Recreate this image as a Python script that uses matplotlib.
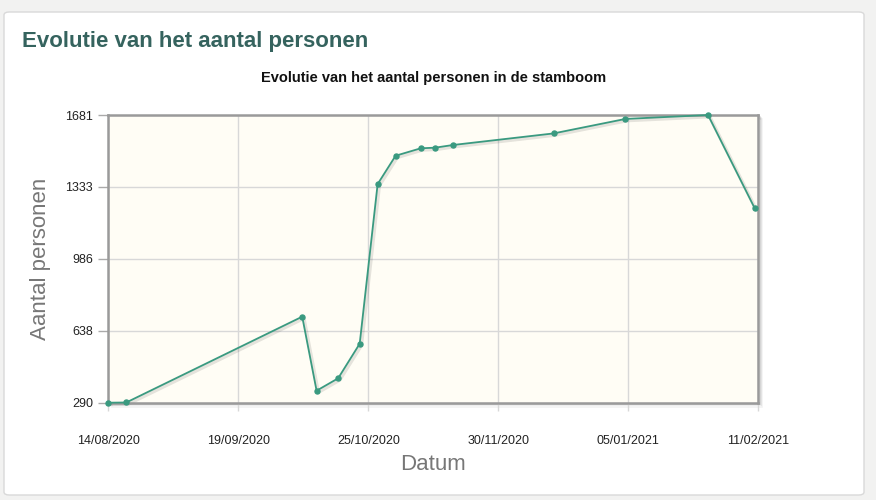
import matplotlib
matplotlib.use("Agg")
import matplotlib.pyplot as plt
import matplotlib.dates as mdates
import matplotlib.transforms as mtransforms
from matplotlib.patches import FancyBboxPatch, Rectangle
import numpy as np
import pandas as pd

plt.rcParams['font.family'] = ['Liberation Sans', 'DejaVu Sans']

# data
datums = ["14/08/2020", "19/08/2020", "07/10/2020", "11/10/2020", "17/10/2020",
          "23/10/2020", "28/10/2020", "02/11/2020", "09/11/2020", "13/11/2020",
          "18/11/2020", "16/12/2020", "05/01/2021", "28/01/2021", "10/02/2021"]
aantal = [290, 291, 706, 348, 408, 575, 1347, 1484, 1520, 1523, 1536, 1592,
          1662, 1681, 1230]
x_min, x_max = "14/08/2020", "11/02/2021"

dates = pd.to_datetime(datums, format="%d/%m/%Y")
xs = mdates.date2num(dates)
lo = mdates.date2num(pd.to_datetime(x_min, format="%d/%m/%Y"))
hi = mdates.date2num(pd.to_datetime(x_max, format="%d/%m/%Y"))
y_lo, y_hi = min(aantal), max(aantal)

W, H = 876, 500
fig = plt.figure(figsize=(W / 100, H / 100), dpi=100)
fig.patch.set_facecolor("#f2f2f1")

# witte kaart
card = FancyBboxPatch((4 / W, 5 / H), 860 / W, 483 / H,
                      boxstyle="round,pad=0,rounding_size=0.006",
                      transform=fig.transFigure, facecolor="white",
                      edgecolor="#d9d9d9", linewidth=1.0, zorder=-3)
fig.patches.append(card)

fig.text(22 / W, 1 - 41 / H, "Evolutie van het aantal personen",
         fontsize=16, fontweight="bold", color="#35635e", va="center", ha="left")

left, right, top, bottom = 108.3, 758.3, 115, 402.7
ax = fig.add_axes([left / W, 1 - bottom / H, (right - left) / W, (bottom - top) / H])

# schaduw van de plotrand
for i, a in enumerate([0.12, 0.08, 0.05]):
    d = 1.5 + i * 1.2
    fig.patches.append(Rectangle(((left + d) / W, 1 - (bottom + d) / H),
                                 (right - left) / W, (bottom - top) / H,
                                 transform=fig.transFigure, facecolor="none",
                                 edgecolor="black", alpha=a, linewidth=1.2, zorder=-2))

ax.set_facecolor("#fffdf5")
ax.set_xlim(lo, hi)
ax.set_ylim(y_lo, y_hi)

ax.set_xticks(np.linspace(lo, hi, 6))
ax.xaxis.set_major_formatter(mdates.DateFormatter("%d/%m/%Y"))
yt = np.linspace(y_lo, y_hi, 5)
ax.set_yticks(yt)
ax.set_yticklabels([str(int(round(v))) for v in yt])

ax.grid(True, color="#d8d8d8", linewidth=1.0)
ax.set_axisbelow(True)
for s in ax.spines.values():
    s.set_color("#9a9a9a")
    s.set_linewidth(1.8)

ax.tick_params(axis="y", length=7, width=1, color="#aaaaaa", pad=4,
               labelsize=9, labelcolor="#222222")
ax.tick_params(axis="x", length=6, width=1, color="#d8d8d8", pad=17,
               labelsize=9, labelcolor="#222222")

# schaduw van de lijn
shadow = mtransforms.offset_copy(ax.transData, fig=fig, x=1.2, y=-1.2, units="points")
ax.plot(xs, aantal, color="black", alpha=0.1, linewidth=2.5, transform=shadow,
        clip_on=False, zorder=2)
ax.plot(xs, aantal, color="#3a9a80", linewidth=1.3, marker="o", markersize=3.6,
        clip_on=False, zorder=3)

ax.set_title("Evolutie van het aantal personen in de stamboom", fontsize=10.5,
             fontweight="bold", color="#111111", pad=24)
ax.set_ylabel("Aantal personen", fontsize=16, color="#777777", labelpad=10)
ax.set_xlabel("Datum", fontsize=16, color="#777777", labelpad=5)

fig.savefig("out.png", dpi=100, facecolor=fig.get_facecolor())
